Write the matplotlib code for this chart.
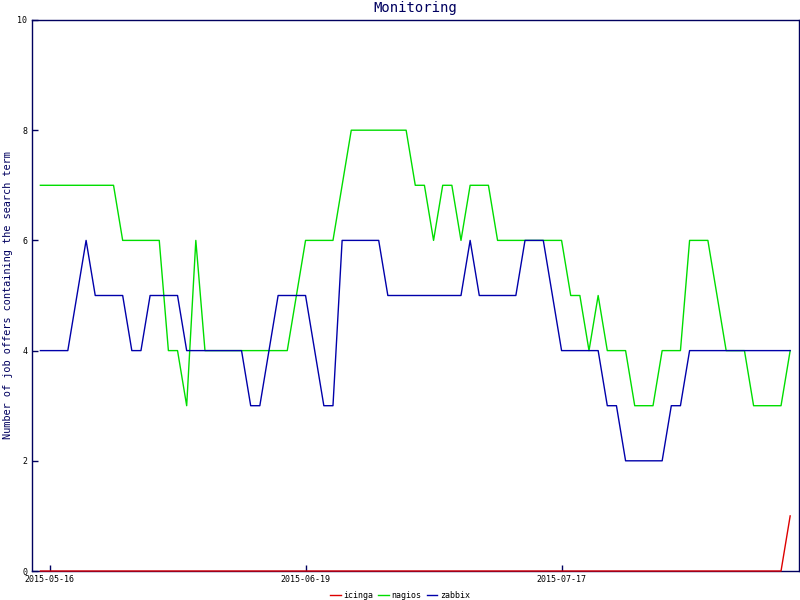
import numpy as np
import matplotlib
matplotlib.use("Agg")
import matplotlib.pyplot as plt

# one point per sample, categorical x axis
icinga = [0] * 82 + [1]
nagios = [7, 7, 7, 7, 7, 7, 7, 7, 7, 6, 6, 6, 6, 6, 4, 4, 3, 6, 4, 4,
          4, 4, 4, 4, 4, 4, 4, 4, 5, 6, 6, 6, 6, 7, 8, 8, 8, 8, 8, 8,
          8, 7, 7, 6, 7, 7, 6, 7, 7, 7, 6, 6, 6, 6, 6, 6, 6, 6, 5, 5,
          4, 5, 4, 4, 4, 3, 3, 3, 4, 4, 4, 6, 6, 6, 5, 4, 4, 4, 3, 3,
          3, 3, 4]
zabbix = [4, 4, 4, 4, 5, 6, 5, 5, 5, 5, 4, 4, 5, 5, 5, 5, 4, 4, 4, 4,
          4, 4, 4, 3, 3, 4, 5, 5, 5, 5, 4, 3, 3, 6, 6, 6, 6, 6, 5, 5,
          5, 5, 5, 5, 5, 5, 5, 6, 5, 5, 5, 5, 5, 6, 6, 6, 5, 4, 4, 4,
          4, 4, 3, 3, 2, 2, 2, 2, 2, 3, 3, 4, 4, 4, 4, 4, 4, 4, 4, 4,
          4, 4, 4]
tick_idx = [1, 29, 57]
tick_labels = ["2015-05-16", "2015-06-19", "2015-07-17"]

axis_col = "#00005f"
mono = "DejaVu Sans Mono"

fig = plt.figure(figsize=(8, 6), dpi=100)
ax = fig.add_axes([0.0395, 0.0483, 0.9593, 0.9184])

x = np.arange(len(nagios))
ax.plot(x, nagios, color="#00dd00", lw=1.0, label="nagios")
ax.plot(x, zabbix, color="#0000aa", lw=1.0, label="zabbix")
ax.plot(x, icinga, color="#dd0000", lw=1.0, label="icinga", zorder=5,
        clip_on=False)

ax.set_xlim(-0.96, 82.97)
ax.set_ylim(0, 10)
ax.set_yticks(range(0, 11, 2))
ax.set_xticks(tick_idx)
ax.set_xticklabels(tick_labels)
ax.tick_params(direction="in", length=4, width=1, colors=axis_col,
               labelsize=6, pad=3)
for lbl in ax.get_xticklabels() + ax.get_yticklabels():
    lbl.set_family(mono)
    lbl.set_color("black")
for s in ax.spines.values():
    s.set_color(axis_col)
    s.set_linewidth(1.0)

ax.set_title("Monitoring", family=mono, fontsize=10, color=axis_col, pad=6)
ax.set_ylabel("Number of job offers containing the search term",
              family=mono, fontsize=7.4, color=axis_col, labelpad=3)

h, l = ax.get_legend_handles_labels()
order = [2, 0, 1]
fig.legend([h[i] for i in order], [l[i] for i in order], loc="lower center",
           ncol=3, frameon=False, handlelength=1.3, handletextpad=0.3,
           columnspacing=0.6, bbox_to_anchor=(0.5, -0.012),
           prop={"family": mono, "size": 6})

fig.savefig("out.png", dpi=100)
